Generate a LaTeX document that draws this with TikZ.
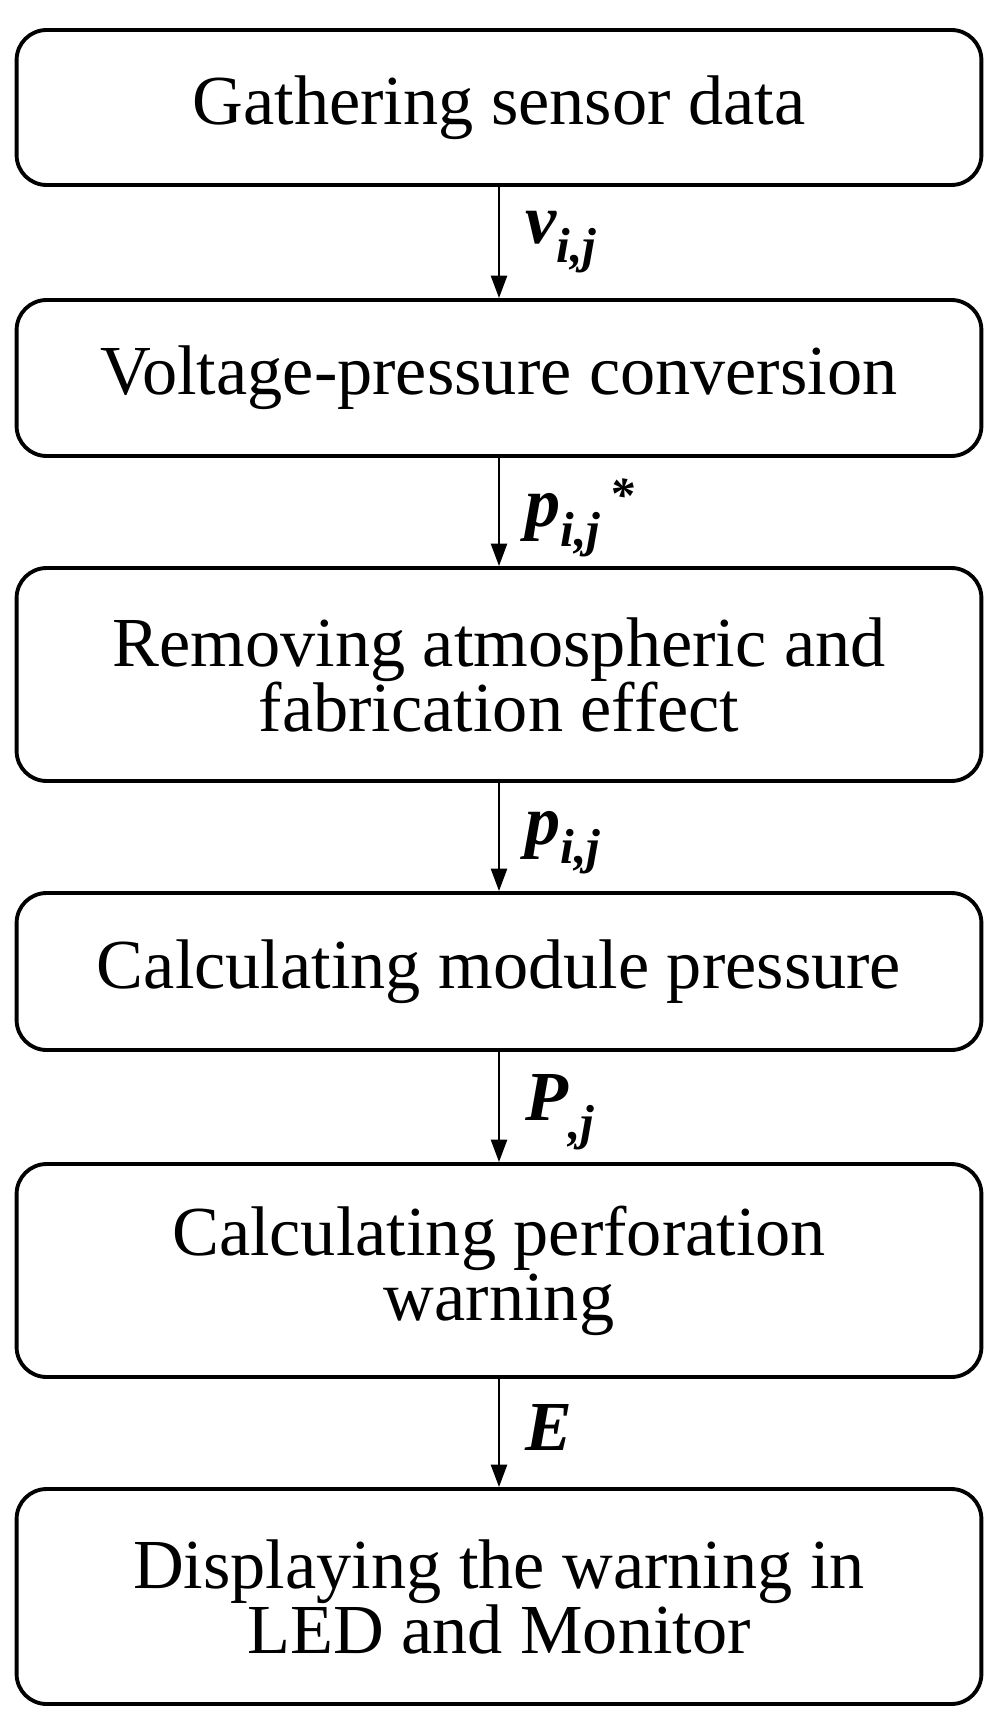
\documentclass[tikz,border=0pt]{standalone}
\usepackage{fontspec}
\setmainfont{Liberation Serif}
\usetikzlibrary{arrows.meta}
\begin{document}
\begin{tikzpicture}[x=0.02cm,y=-0.02cm,
  box/.style={draw,line width=2.2pt,rounded corners=0.6cm,minimum width=19.3cm,align=center,font=\fontsize{40}{37}\selectfont,inner sep=0pt},
  arr/.style={-{Triangle[length=0.45cm,width=0.32cm]},line width=1.5pt},
  lab/.style={anchor=west,font=\fontsize{40}{40}\selectfont\bfseries\itshape,inner sep=0pt}]
\useasboundingbox (0,0) rectangle (997,1726);
\node[box,minimum height=3.1cm] (b1) at (499,107.5) {Gathering sensor data};
\node[box,minimum height=3.12cm] (b2) at (499,378) {Voltage-pressure conversion};
\node[box,minimum height=4.26cm] (b3) at (499,674.5) {Removing atmospheric and\\fabrication effect};
\node[box,minimum height=3.14cm] (b4) at (499,971.5) {Calculating module pressure};
\node[box,minimum height=4.26cm] (b5) at (499,1270.5) {Calculating perforation\\warning};
\node[box,minimum height=4.3cm] (b6) at (499,1596.5) {Displaying the warning in\\LED and Monitor};
\draw[arr] (b1) -- (b2) node[lab,pos=0.5,xshift=0.5cm] {v\textsubscript{i,j}};
\draw[arr] (b2) -- (b3) node[lab,pos=0.55,xshift=0.5cm] {p\textsubscript{i,j}\textsuperscript{\,*}};
\draw[arr] (b3) -- (b4) node[lab,pos=0.55,xshift=0.5cm] {p\textsubscript{i,j}};
\draw[arr] (b4) -- (b5) node[lab,pos=0.55,xshift=0.5cm] {P\textsubscript{,j}};
\draw[arr] (b5) -- (b6) node[lab,pos=0.45,xshift=0.5cm] {E};
\end{tikzpicture}
\end{document}
